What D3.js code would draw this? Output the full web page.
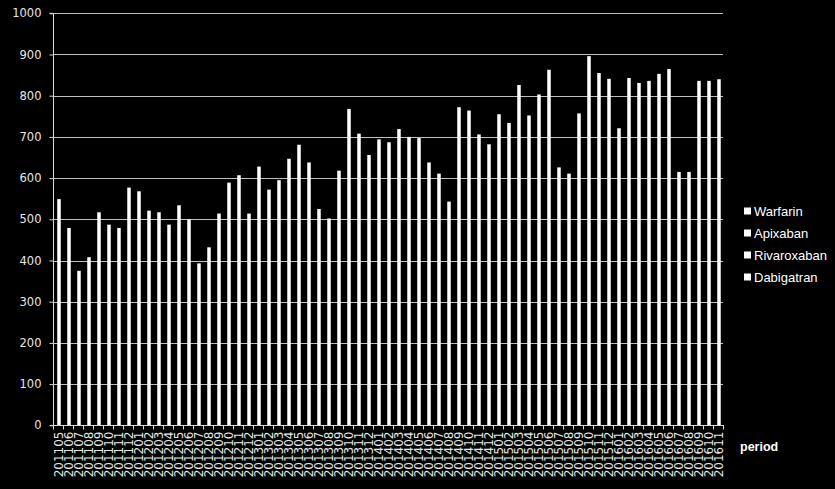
<!DOCTYPE html>
<html>
<head>
<meta charset="utf-8">
<script src="https://cdn.jsdelivr.net/npm/d3@7"></script>
<style>
  html, body { margin: 0; padding: 0; background: #000; }
  svg { display: block; }
</style>
</head>
<body>
<svg id="chart" width="835" height="489"></svg>
<script>
const periods = [
  "201105","201106","201107","201108","201109","201110","201111","201112",
  "201201","201202","201203","201204","201205","201206","201207","201208","201209","201210","201211","201212",
  "201301","201302","201303","201304","201305","201306","201307","201308","201309","201310","201311","201312",
  "201401","201402","201403","201404","201405","201406","201407","201408","201409","201410","201411","201412",
  "201501","201502","201503","201504","201505","201506","201507","201508","201509","201510","201511","201512",
  "201601","201602","201603","201604","201605","201606","201607","201608","201609","201610","201611"
];
const totals = [
  549,479,375,408,517,487,479,577,
  568,521,517,487,534,500,393,432,514,589,607,514,
  628,572,595,647,681,638,525,502,618,768,708,656,
  694,687,719,700,697,638,611,543,772,764,706,682,
  755,734,826,752,803,863,626,611,757,896,855,841,
  721,843,831,836,853,865,615,615,836,836,840
];
const seriesNames = ["Warfarin", "Apixaban", "Rivaroxaban", "Dabigatran"];
const yTicks = [0,100,200,300,400,500,600,700,800,900,1000];

(function () {
const svg = d3.select("#chart");
const pLeft = 54, pRight = 724, pTop = 13.3, pBottom = 425.3;

const x = d3.scaleBand().domain(periods).range([pLeft, pRight]).paddingInner(0.65).paddingOuter(0.325);
const y = d3.scaleLinear().domain([0, 1000]).range([pBottom, pTop]);

// gridlines
svg.append("g").selectAll("line").data(yTicks.filter(d => d > 0)).join("line")
  .attr("x1", pLeft - 1).attr("x2", 723)
  .attr("y1", d => Math.round(y(d)) + 0.5).attr("y2", d => Math.round(y(d)) + 0.5)
  .attr("stroke", "#bfbfbf").attr("stroke-width", 1);

// bars
svg.append("g").selectAll("rect").data(periods).join("rect")
  .attr("x", (d) => x(d))
  .attr("width", x.bandwidth())
  .attr("y", (d, i) => y(totals[i]))
  .attr("height", (d, i) => y(0) - y(totals[i]))
  .attr("fill", "#ffffff");

// y axis
const yAxis = d3.axisLeft(y).tickValues(yTicks).tickFormat(d3.format("d")).tickSize(4).tickPadding(8);
const gy = svg.append("g").attr("transform", `translate(${pLeft - 0.5},0)`).call(yAxis);
gy.select(".domain").attr("stroke", "#d9d9d9").attr("d", `M-4,${y(1000)}H0V${y(0)}`);
gy.selectAll(".tick line").attr("stroke", "#d9d9d9");
gy.selectAll(".tick text").attr("fill", "#e6e6e6")
  .style("font-family", "DejaVu Sans").style("font-size", "11.5px");

// x axis
const xAxis = d3.axisBottom(x).tickSize(0);
const gx = svg.append("g").attr("transform", `translate(0,${Math.round(pBottom) + 0.5})`).call(xAxis);
gx.select(".domain").attr("stroke", "#d9d9d9").attr("d", `M${pLeft - 4},0H${pRight}`);
gx.selectAll(".tick text")
  .attr("fill", "#e6e6e6")
  .style("font-family", "DejaVu Sans").style("font-size", "12px")
  .attr("text-anchor", "end")
  .attr("transform", "rotate(-90)")
  .attr("x", -6).attr("y", 0).attr("dy", "0.35em");
// category boundary ticks
const step = x.step();
const bounds = d3.range(periods.length + 1).map(i => pLeft + i * step);
gx.append("g").selectAll("line").data(bounds).join("line")
  .attr("x1", d => Math.round(d) - 0.5).attr("x2", d => Math.round(d) - 0.5)
  .attr("y1", 0).attr("y2", 4).attr("stroke", "#d9d9d9");

// axis title
svg.append("text").attr("x", 740).attr("y", 451).text("period")
  .attr("fill", "#ffffff").style("font-family", "Liberation Sans").style("font-weight", "bold").style("font-size", "12.5px");

// legend
const lg = svg.append("g");
seriesNames.forEach((name, i) => {
  const cy = 211 + i * 22;
  lg.append("rect").attr("x", 744).attr("y", cy - 3.5).attr("width", 7).attr("height", 7).attr("fill", "#ffffff");
  lg.append("text").attr("x", 754).attr("y", cy + 4.5).text(name)
    .attr("fill", "#ffffff").style("font-family", "Liberation Sans").style("font-size", "13px");
});
})();
</script>
</body>
</html>
